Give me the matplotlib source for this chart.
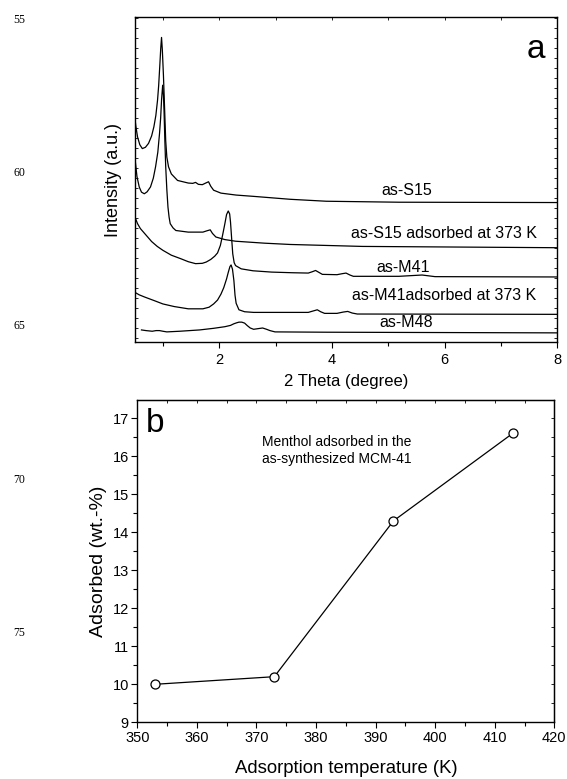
import matplotlib
matplotlib.use("Agg")
import matplotlib.pyplot as plt
import numpy as np
from matplotlib.ticker import MultipleLocator, FixedLocator

plt.rcParams['font.family'] = ['Liberation Sans', 'DejaVu Sans']

# ---------- panel a data (2 theta, relative intensity with offsets) ----------
s15_x = [0.50, 0.52, 0.55, 0.59, 0.635, 0.69, 0.745, 0.80, 0.84, 0.875, 0.905, 0.925, 0.944, 0.962,
         0.976, 0.99, 1.01, 1.03, 1.05, 1.07, 1.10, 1.15, 1.26, 1.45, 1.53, 1.58, 1.63, 1.70, 1.76,
         1.81, 1.85, 1.90, 2.03, 2.30, 2.61, 3.26, 3.90, 5.19, 8.0]
s15_y = [69.4, 66.5, 63.2, 60.8, 59.6, 60.0, 61.2, 63.5, 66.3, 69.8, 74.5, 79.0, 84.8, 90.5,
         93.8, 90.0, 82.0, 72.0, 62.0, 57.0, 54.0, 51.8, 49.8, 49.0, 48.9, 49.2, 48.6, 48.5, 49.0,
         49.4, 48.0, 46.8, 45.9, 45.3, 44.9, 44.0, 43.4, 43.1, 43.0]

s15ad_x = [0.505, 0.54, 0.58, 0.62, 0.67, 0.72, 0.78, 0.83, 0.87, 0.91, 0.94, 0.96, 0.976, 0.996,
           1.01, 1.02, 1.035, 1.05, 1.07, 1.09, 1.11, 1.13, 1.18, 1.23, 1.45, 1.71, 1.78, 1.84,
           1.88, 1.94, 2.10, 2.29, 2.80, 3.26, 4.54, 8.0]
s15ad_y = [56.5, 51.0, 47.8, 46.2, 45.7, 46.3, 47.8, 50.5, 54.0, 58.5, 64.2, 69.0, 74.5, 79.1,
           76.0, 71.4, 62.0, 54.0, 47.0, 41.6, 38.5, 36.5, 35.2, 34.4, 33.9, 33.9, 34.3, 34.6,
           33.5, 32.4, 31.6, 31.1, 30.5, 30.1, 29.5, 29.1]

m41_x = [0.50, 0.55, 0.60, 0.68, 0.80, 0.90, 1.0, 1.15, 1.32, 1.45, 1.58, 1.70, 1.77, 1.85, 1.92,
         1.97, 2.02, 2.06, 2.10, 2.13, 2.16, 2.185, 2.20, 2.22, 2.24, 2.265, 2.29, 2.39, 2.60, 2.93,
         3.30, 3.58, 3.65, 3.71, 3.77, 3.83, 4.09, 4.18, 4.25, 4.32, 4.38, 5.19, 5.60, 5.83, 8.0]
m41_y = [38.7, 36.5, 35.0, 33.4, 31.0, 29.5, 28.3, 26.8, 25.7, 24.8, 24.2, 24.3, 24.7, 25.5, 26.5,
         27.5, 29.8, 33.0, 36.5, 39.3, 40.4, 39.5, 37.0, 32.0, 27.2, 24.5, 23.6, 22.6, 22.0, 21.6,
         21.4, 21.3, 21.7, 22.1, 21.5, 20.9, 20.8, 21.1, 21.3, 20.7, 20.3, 20.3, 20.7, 20.2, 20.1]

m41ad_x = [0.50, 0.58, 0.68, 0.85, 1.0, 1.2, 1.45, 1.71, 1.82, 1.90, 1.97, 2.03, 2.08, 2.13, 2.16,
           2.19, 2.21, 2.235, 2.26, 2.28, 2.30, 2.35, 2.45, 2.61, 3.58, 3.66, 3.74, 3.80, 3.87,
           4.09, 4.20, 4.28, 4.36, 4.45, 8.0]
m41ad_y = [15.4, 14.6, 13.9, 12.8, 11.8, 11.0, 10.3, 10.3, 10.8, 11.8, 13.0, 14.8, 16.8, 19.5, 21.5,
           23.3, 23.8, 22.5, 19.0, 14.5, 12.0, 10.0, 9.4, 9.2, 9.2, 9.6, 10.0, 9.4, 8.9,
           8.9, 9.3, 9.5, 9.0, 8.7, 8.6]

m48_x = [0.62, 0.70, 0.81, 0.88, 0.94, 1.0, 1.07, 1.30, 1.65, 1.90, 2.10, 2.20, 2.26, 2.31, 2.35,
         2.40, 2.45, 2.50, 2.55, 2.61, 2.69, 2.77, 2.84, 2.90, 2.99, 3.90, 8.0]
m48_y = [3.8, 3.6, 3.4, 3.6, 3.6, 3.4, 3.2, 3.4, 3.8, 4.3, 4.8, 5.2, 5.7, 6.0, 6.2,
         6.2, 5.9, 5.1, 4.4, 4.0, 4.2, 4.4, 4.0, 3.6, 3.2, 3.1, 2.9]

curve_labels = ["as-S15", "as-S15 adsorbed at 373 K", "as-M41", "as-M41adsorbed at 373 K", "as-M48"]
label_x = [5.32, 5.99, 5.27, 5.99, 5.32]
label_y = [46.8, 33.6, 23.1, 14.4, 6.2]

# ---------- panel b data ----------
temp_K = [353, 373, 393, 413]
adsorbed = [10.0, 10.2, 14.3, 16.6]

line_numbers = ["55", "60", "65", "70", "75"]
line_number_y = [20, 173, 326, 480, 633]

fig = plt.figure(figsize=(5.67, 7.79), dpi=100)

# ---------------- panel a ----------------
ax1 = fig.add_axes([0.2376, 0.5606, 0.7453, 0.4172])
lw = 0.9
for xs, ys in [(s15_x, s15_y), (s15ad_x, s15ad_y), (m41_x, m41_y), (m41ad_x, m41ad_y), (m48_x, m48_y)]:
    ax1.plot(xs, ys, color='black', lw=lw, solid_joinstyle='round')
for t, xx, yy in zip(curve_labels, label_x, label_y):
    ax1.text(xx, yy, t, ha='center', va='center', fontsize=11.5)
ax1.set_xlim(0.5, 8)
ax1.set_ylim(0, 100)
ax1.xaxis.set_major_locator(FixedLocator([2, 4, 6, 8]))
ax1.xaxis.set_minor_locator(FixedLocator([1, 3, 5, 7]))
ax1.yaxis.set_major_locator(FixedLocator([]))
ax1.yaxis.set_minor_locator(FixedLocator(np.arange(1.4, 100, 3.077)))
ax1.tick_params(axis='x', which='both', direction='out', top=False, labelsize=10.5, pad=4)
ax1.tick_params(axis='x', which='major', length=4, width=0.8)
ax1.tick_params(axis='x', which='minor', length=3, width=0.8)
ax1.tick_params(axis='y', which='minor', direction='in', length=2, width=0.6, left=True, right=True)
ax1.set_yticklabels([])
sec = ax1.secondary_xaxis('top')
sec.xaxis.set_major_locator(FixedLocator([2, 4, 6, 8]))
sec.xaxis.set_minor_locator(FixedLocator([1, 3, 5, 7]))
sec.tick_params(which='both', direction='in', length=2.5, width=0.6, labeltop=False)
sec.spines['top'].set_visible(False)
ax1.set_xlabel("2 Theta (degree)", fontsize=12, labelpad=5)
ax1.set_ylabel("Intensity (a.u.)", fontsize=13, labelpad=6)
ax1.text(0.95, 0.9, "a", transform=ax1.transAxes, fontsize=24, ha='center', va='center')
for sp in ax1.spines.values():
    sp.set_linewidth(1.0)

# ---------------- panel b ----------------
ax2 = fig.add_axes([0.2422, 0.0728, 0.7354, 0.4137])
ax2.plot(temp_K, adsorbed, color='black', lw=0.9, marker='o', markersize=6.5,
         markerfacecolor='white', markeredgecolor='black', markeredgewidth=0.9)
ax2.set_xlim(350, 420)
ax2.set_ylim(9, 17.48)
ax2.xaxis.set_major_locator(MultipleLocator(10))
ax2.xaxis.set_minor_locator(MultipleLocator(5))
ax2.yaxis.set_major_locator(MultipleLocator(1))
ax2.yaxis.set_minor_locator(MultipleLocator(0.5))
ax2.tick_params(which='both', direction='out', labelsize=10.5, pad=2)
ax2.tick_params(which='major', length=4, width=0.8)
ax2.tick_params(which='minor', length=3, width=0.8)
secx = ax2.secondary_xaxis('top')
secx.xaxis.set_major_locator(MultipleLocator(5))
secx.tick_params(which='both', direction='in', length=2.5, width=0.6, labeltop=False)
secy = ax2.secondary_yaxis('right')
secy.yaxis.set_major_locator(MultipleLocator(0.5))
secy.tick_params(which='both', direction='in', length=2.5, width=0.6, labelright=False)
ax2.set_xlabel("Adsorption temperature (K)", fontsize=13.3, labelpad=11)
ax2.set_ylabel("Adsorbed (wt.-%)", fontsize=14, labelpad=4)
ax2.text(353.0, 16.87, "b", fontsize=24, ha='center', va='center')
ax2.text(383.5, 16.15, "Menthol adsorbed in the\nas-synthesized MCM-41", fontsize=10,
         ha='center', va='center', linespacing=1.2)
for sp in ax2.spines.values():
    sp.set_linewidth(1.0)

# manuscript line numbers in the margin
for t, yy in zip(line_numbers, line_number_y):
    fig.text(19 / 567, 1 - yy / 779, t, fontsize=8.5, family='Liberation Serif', ha='center', va='center')

fig.savefig("out.png", dpi=100)
